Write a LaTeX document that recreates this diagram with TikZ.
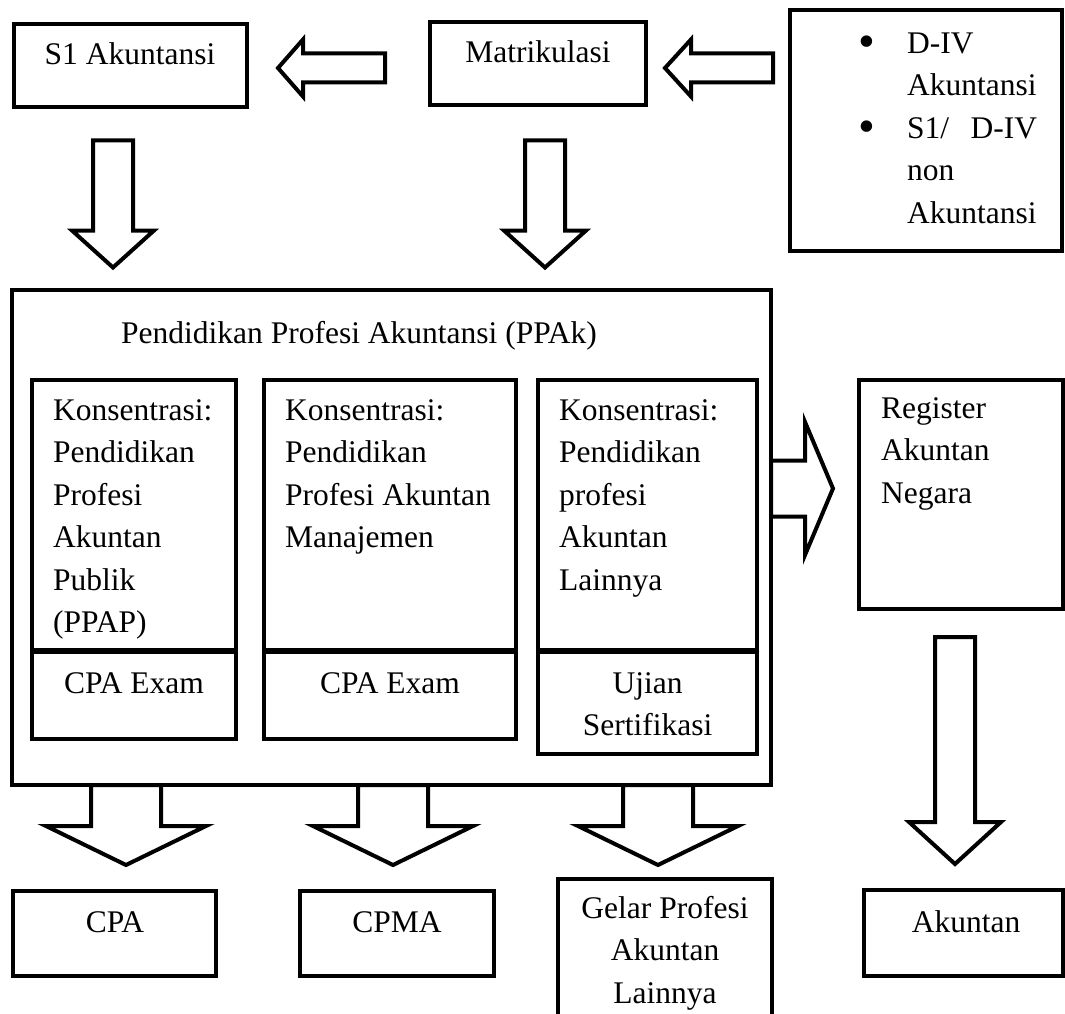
\documentclass[tikz,border=0pt]{standalone}
\usepackage{fontspec}
\setmainfont{Liberation Serif}
\usepackage{tikz}
\usetikzlibrary{positioning}
\newcommand\bigbullet{\raisebox{-4.5pt}{\fontsize{48}{48}\selectfont\textbullet}}

\begin{document}
\begin{tikzpicture}[%
            x=1pt,y=-1pt,
            box/.style={draw,line width=4pt,inner sep=0pt,outer sep=0pt,anchor=north west},
            txt/.style={inner sep=0pt,align=left,font=\fontsize{31.5}{42.5}\selectfont},
            pics/fatarrow/.style args={#1/#2/#3/#4}{code={%
              \path [draw,line width=4pt] (0,-#2)
                -- (#1-#4,-#2)
                -- (#1-#4,-#3)
                -- (#1,0)
                -- (#1-#4,#3)
                -- (#1-#4,#2)
                -- (0,#2)
                -- cycle;
            }}
          ]
            \useasboundingbox (0,0) rectangle (1065,1014);
            \def\ind{49pt}
            % multi-line texts are placed at the baseline of their last line

            % top row
            \node [box,minimum width=233,minimum height=83] (s1) at (14,24) {};
            \node [txt,anchor=base] (s1text) at (130,65) {S1 Akuntansi};
            \node [box,minimum width=216,minimum height=83] (matrik) at (430,22) {};
            \node [txt,anchor=base] (matriktext) at (538,63) {Matrikulasi};
            \node [box,minimum width=272,minimum height=241] (div) at (790,10) {};
            \node [txt,anchor=base west] (divtext) at (858,223) {%
              \makebox[\ind][l]{\bigbullet}D-IV\\
              \hspace*{\ind}Akuntansi\\
              \makebox[\ind][l]{\bigbullet}\makebox[130pt][l]{S1/\hfill D-IV}\\
              \hspace*{\ind}non\\
              \hspace*{\ind}Akuntansi};

            \pic [rotate=180] at (385,68) {fatarrow={107/14.5/28.5/25}};
            \pic [rotate=180] at (773,68) {fatarrow={108/14.5/28.5/26}};
            \foreach \x in {113,545}
              \pic [rotate=-90] at (\x,140.5) {fatarrow={127/20/41/37}};

            % PPAk
            \node [box,minimum width=759,minimum height=495] (ppak) at (12,290) {};
            \node [txt,anchor=base west] (ppaktext) at (121,343) {Pendidikan Profesi Akuntansi (PPAk)};

            \node [box,minimum width=204,minimum height=270] (ppap) at (32,380) {};
            \node [box,minimum width=204,minimum height=87,below=2pt of ppap] (ppapexam) {};
            \node [box,minimum width=252,minimum height=270] (ppam) at (264,380) {};
            \node [box,minimum width=252,minimum height=87,below=2pt of ppam] (ppamexam) {};
            \node [box,minimum width=219,minimum height=270] (ppal) at (538,380) {};
            \node [box,minimum width=219,minimum height=102,below=2pt of ppal] (ppalexam) {};

            \node [txt,anchor=base west] (ppaptext) at (53,632.5)
              {Konsentrasi:\\Pendidikan\\Profesi\\Akuntan\\Publik\\(PPAP)};
            \node [txt,anchor=base west] (ppamtext) at (285,547.5)
              {Konsentrasi:\\Pendidikan\\Profesi Akuntan\\Manajemen};
            \node [txt,anchor=base west] (ppaltext) at (559,590)
              {Konsentrasi:\\Pendidikan\\profesi\\Akuntan\\Lainnya};
            \node [txt,anchor=base] (ppapexamtext) at (134,693) {CPA Exam};
            \node [txt,anchor=base] (ppamexamtext) at (390,693) {CPA Exam};
            \node [txt,anchor=base,align=center] (ppalexamtext) at (647.5,735.5) {Ujian\\Sertifikasi};

            % register
            \pic at (771,488.5) {fatarrow={62/28/66.5/28}};
            \node [box,minimum width=204,minimum height=229] (register) at (859,380) {};
            \node [txt,anchor=base west] (registertext) at (881,503) {Register\\Akuntan\\Negara};
            \pic [rotate=-90] at (955,637) {fatarrow={227/20/46/42}};

            % bottom row
            \foreach \x in {126,393,658}
              \pic [rotate=-90] at (\x,785) {fatarrow={80/35/80/39}};
            \node [box,minimum width=203,minimum height=85] (cpa) at (13,891) {};
            \node [txt,anchor=base] (cpatext) at (115,932) {CPA};
            \node [box,minimum width=194,minimum height=85] (cpma) at (300,891) {};
            \node [txt,anchor=base] (cpmatext) at (397,932) {CPMA};
            \node [box,minimum width=214,minimum height=160] (gelar) at (558,879) {};
            \node [txt,anchor=base,align=center] (gelartext) at (665,1003) {Gelar Profesi\\Akuntan\\Lainnya};
            \node [box,minimum width=199,minimum height=86] (akuntan) at (864,890) {};
            \node [txt,anchor=base] (akuntantext) at (966,932) {Akuntan};
          \end{tikzpicture}
\end{document}
